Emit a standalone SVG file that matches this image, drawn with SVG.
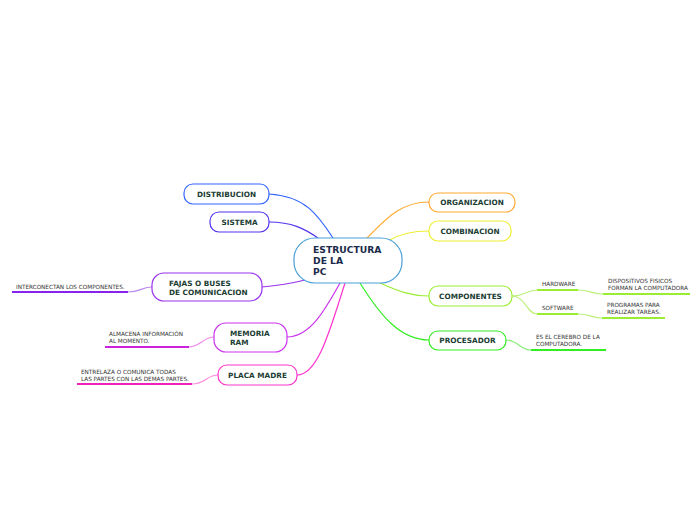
<svg xmlns="http://www.w3.org/2000/svg" width="696" height="520" viewBox="0 0 696 520">
<style>
.n{fill:#fff;stroke-width:1.2}
.t{font-family:"DejaVu Sans",Verdana,sans-serif;font-weight:bold;font-size:7.3px;fill:#1b3d33}
.c{font-family:"DejaVu Sans",Verdana,sans-serif;font-weight:bold;font-size:9.2px;fill:#1a2a4a}
.s{font-family:"DejaVu Sans",Verdana,sans-serif;font-size:5.7px;fill:#333}
.l{fill:none;stroke-width:1.2}
.u{fill:none;stroke-width:1.8}
</style>
<rect width="696" height="520" fill="#fff"/>
<g id="connectors">
<path class="l" stroke="#3366ff" d="M269,194 C305,196 318,215 333,238"/>
<path class="l" stroke="#5533ee" d="M269,222 C292,222 305,229 318,238"/>
<path class="l" stroke="#9933ee" d="M262,287 C285,285 297,282 305,280"/>
<path class="l" stroke="#cc33ee" d="M287,337 C310,337 325,310 340,283"/>
<path class="l" stroke="#ff33cc" d="M297,375 C318,375 330,330 345,283"/>
<path class="l" stroke="#ffaa33" d="M367,238 C385,220 400,202 429,202"/>
<path class="l" stroke="#eeee33" d="M390,240 C400,234 412,231 429,231"/>
<path class="l" stroke="#99ee33" d="M380,283 C400,292 412,296 429,296"/>
<path class="l" stroke="#33ee22" d="M360,283 C380,315 400,340 429,340"/>
<path class="l" stroke="#bbf07a" d="M512,296 C525,296 527,290 537,290"/>
<path class="l" stroke="#bbf07a" d="M512,296 C525,296 527,314 537,314"/>
<path class="l" stroke="#bbf07a" d="M578,290 C590,290 592,294 603,294"/>
<path class="l" stroke="#bbf07a" d="M578,314 C590,314 592,318 602,318"/>
<path class="l" stroke="#88ee77" d="M506,340 C518,340 520,350 531,350"/>
<path class="l" stroke="#bb88ee" d="M128,292 C140,292 142,287 152,287"/>
<path class="l" stroke="#ee88ee" d="M189,347 C200,347 203,337 214,337"/>
<path class="l" stroke="#ff88dd" d="M192,384 C205,384 207,375 218,375"/>
</g>
<g id="center">
<rect class="n" x="294" y="238" width="108" height="45" rx="21" stroke="#4a9fd8"/>
<text class="c" x="313" y="253">ESTRUCTURA</text>
<text class="c" x="313" y="264">DE LA</text>
<text class="c" x="313" y="275">PC</text>
</g>
<g id="distribucion">
<rect class="n" x="184" y="184" width="85" height="20" rx="9" stroke="#3366ff"/>
<text class="t" x="226.5" y="196.5" text-anchor="middle">DISTRIBUCION</text>
</g>
<g id="sistema">
<rect class="n" x="210" y="212" width="59" height="20" rx="9" stroke="#5533ee"/>
<text class="t" x="239.5" y="224.5" text-anchor="middle">SISTEMA</text>
</g>
<g id="fajas">
<rect class="n" x="152" y="273" width="110" height="28" rx="12" stroke="#9933ee"/>
<text class="t" x="169" y="285.5">FAJAS O BUSES</text>
<text class="t" x="169" y="294.5">DE COMUNICACION</text>
</g>
<g id="memoria">
<rect class="n" x="214" y="323" width="73" height="29" rx="12" stroke="#cc33ee"/>
<text class="t" x="230" y="335.5">MEMORIA</text>
<text class="t" x="230" y="344.5">RAM</text>
</g>
<g id="placa">
<rect class="n" x="218" y="365" width="79" height="20" rx="9" stroke="#ff33cc"/>
<text class="t" x="257.5" y="377.5" text-anchor="middle">PLACA MADRE</text>
</g>
<g id="organizacion">
<rect class="n" x="429" y="193" width="86" height="19" rx="9" stroke="#ffaa33"/>
<text class="t" x="472" y="205" text-anchor="middle">ORGANIZACION</text>
</g>
<g id="combinacion">
<rect class="n" x="429" y="221" width="82" height="20" rx="9" stroke="#eeee33"/>
<text class="t" x="470" y="233.5" text-anchor="middle">COMBINACION</text>
</g>
<g id="componentes">
<rect class="n" x="429" y="286" width="83" height="20" rx="9" stroke="#99ee33"/>
<text class="t" x="470.5" y="298.5" text-anchor="middle">COMPONENTES</text>
</g>
<g id="procesador">
<rect class="n" x="429" y="331" width="77" height="19" rx="9" stroke="#33ee22"/>
<text class="t" x="467.5" y="343" text-anchor="middle">PROCESADOR</text>
</g>
<g id="hardware">
<text class="s" x="542" y="286">HARDWARE</text>
<path class="u" stroke="#99ee33" d="M537,290 H578"/>
</g>
<g id="software">
<text class="s" x="542" y="310">SOFTWARE</text>
<path class="u" stroke="#99ee33" d="M537,314 H578"/>
</g>
<g id="dispositivos">
<text class="s" x="608" y="283">DISPOSITIVOS FISICOS</text>
<text class="s" x="608" y="289.5">FORMAN LA COMPUTADORA</text>
<path class="u" stroke="#99ee33" d="M603,294 H690"/>
</g>
<g id="programas">
<text class="s" x="607" y="307">PROGRAMAS PARA</text>
<text class="s" x="607" y="314">REALIZAR TAREAS.</text>
<path class="u" stroke="#99ee33" d="M602,318 H665"/>
</g>
<g id="cerebro">
<text class="s" x="536" y="339">ES EL CEREBRO DE LA</text>
<text class="s" x="536" y="346">COMPUTADORA.</text>
<path class="u" stroke="#33ee22" d="M531,350 H606"/>
</g>
<g id="interconectan">
<text class="s" x="16" y="289">INTERCONECTAN LOS COMPONENTES.</text>
<path class="u" stroke="#8822ee" d="M12,292 H128"/>
</g>
<g id="almacena">
<text class="s" x="109" y="336">ALMACENA INFORMACIÓN</text>
<text class="s" x="109" y="343">AL MOMENTO.</text>
<path class="u" stroke="#cc22dd" d="M105,347 H189"/>
</g>
<g id="entrelaza">
<text class="s" x="81" y="374">ENTRELAZA O COMUNICA TODAS</text>
<text class="s" x="81" y="381">LAS PARTES CON LAS DEMAS PARTES.</text>
<path class="u" stroke="#ee22bb" d="M77,384 H192"/>
</g>
</svg>
